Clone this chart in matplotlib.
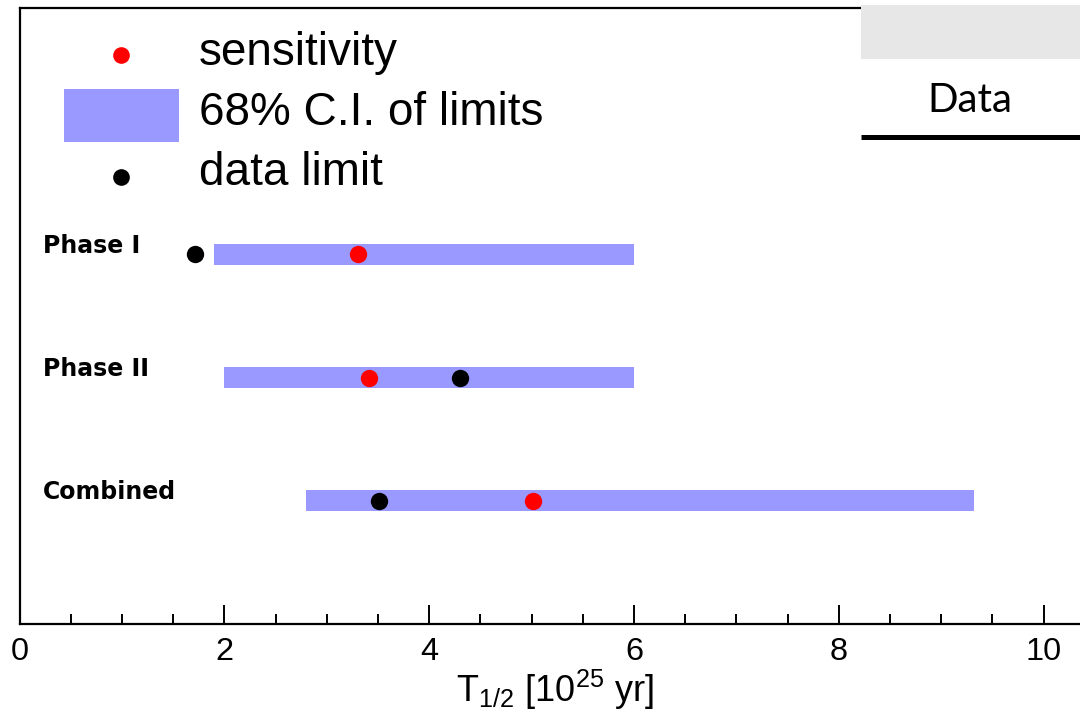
import numpy as np
import matplotlib
matplotlib.use("Agg")
import matplotlib.pyplot as plt
from matplotlib.patches import Rectangle
from matplotlib.ticker import MultipleLocator

# ------------------------------------------------------------
# Data (half-life limits, units of 1e25 yr)
# ------------------------------------------------------------
rows        = ["Phase I", "Phase II", "Combined"]
row_y       = [3, 2, 1]
ci_low      = [1.90, 2.00, 2.80]
ci_high     = [6.00, 6.00, 9.32]
sensitivity = [3.30, 3.41, 5.01]
data_limit  = [1.71, 4.30, 3.51]

plt.rcParams["font.family"] = ["Liberation Sans", "DejaVu Sans"]
plt.rcParams["mathtext.default"] = "regular"

BAR_C = "#9999FF"
W, H = 1080, 711

fig = plt.figure(figsize=(W / 100, H / 100), dpi=100)

# main axes: x=0 at 19.6 px, 102.4 px per unit, runs off the right edge
x0_px, top_px, bot_px = 19.6, 8.0, 624.0
ax = fig.add_axes([x0_px / W, (H - bot_px) / H, 1 - x0_px / W, (bot_px - top_px) / H])
ax.set_xlim(0, (W - x0_px) / 102.4)
ax.set_ylim(0.0, 5.0)

ax.barh(row_y, np.array(ci_high) - np.array(ci_low), left=ci_low,
        height=0.17, color=BAR_C, edgecolor="none", zorder=2)
ax.plot(sensitivity, row_y, "o", color="red", ms=12.5, mec="none", zorder=3)
ax.plot(data_limit, row_y, "o", color="black", ms=12.5, mec="none", zorder=3)

for name, y in zip(rows, row_y):
    ax.text(0.225, y + 0.072, name, fontsize=17, fontweight="bold",
            family=["DejaVu Sans"], ha="left", va="center")

# axes styling
for s in ["left", "bottom", "top"]:
    ax.spines[s].set_linewidth(1.6)
ax.spines["right"].set_visible(False)
ax.set_yticks([])
ax.xaxis.set_major_locator(MultipleLocator(2))
ax.xaxis.set_minor_locator(MultipleLocator(0.5))
ax.tick_params(axis="x", which="major", direction="in", length=13.7, width=1.4,
               labelsize=23.4, pad=9)
ax.tick_params(axis="x", which="minor", direction="in", length=7.2, width=1.4)

fig.text(555 / W, 1 - 701.5 / H, r"T$_{1/2}$ [10$^{25}$ yr]", fontsize=26,
         ha="center", va="baseline")

# overlay in pixel coordinates for legend and slide decorations
ov = fig.add_axes([0, 0, 1, 1])
ov.set_xlim(0, W)
ov.set_ylim(H, 0)
ov.axis("off")

ov.plot([121], [55], "o", color="red", ms=12, mec="none")
ov.add_patch(Rectangle((64, 89), 115, 53, color=BAR_C, lw=0))
ov.plot([121], [177], "o", color="black", ms=12, mec="none")
for txt, y in zip(["sensitivity", "68% C.I. of limits", "data limit"], [53, 113, 173]):
    ov.text(199, y, txt, fontsize=33, ha="left", va="center")

ov.add_patch(Rectangle((861, 5), 230, 54, color="#E7E7E7", lw=0, zorder=5))
ov.text(970, 100, "Data", fontsize=29, family=["Lato", "DejaVu Sans"],
        ha="center", va="center", zorder=5)
ov.plot([861, 1080], [136.5, 136.5], color="black", lw=3.6, solid_capstyle="butt",
        zorder=5)

fig.savefig("out.png", dpi=100)
